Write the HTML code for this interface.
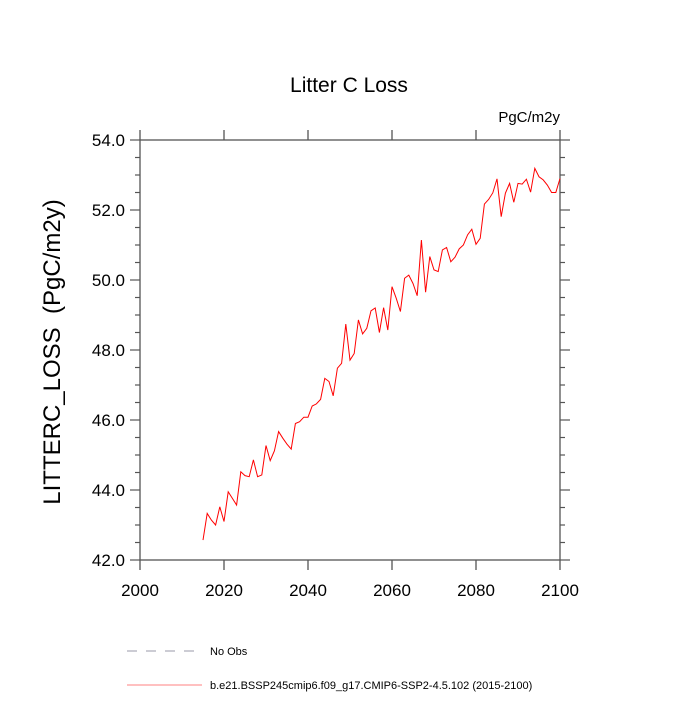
<!DOCTYPE html>
<html><head><meta charset="utf-8"><style>
body{margin:0;background:#fff;}
svg text{font-family:"Liberation Sans",sans-serif;fill:#000;}
</style></head><body>
<svg id="chart" width="700" height="700">
<text x="349" y="92" font-size="21" text-anchor="middle">Litter C Loss</text>
<text x="560" y="122" font-size="15" text-anchor="end">PgC/m2y</text>
<text transform="translate(60,352) rotate(-90)" font-size="24" text-anchor="middle" style="white-space:pre">LITTERC_LOSS  (PgC/m2y)</text>
<g id="axes"></g>
<g id="series"></g>
<g>
<line x1="127" y1="651" x2="200" y2="651" stroke="#9999aa" stroke-width="1" stroke-dasharray="10,9"/>
<text x="210" y="655" font-size="11">No Obs</text>
<line x1="127" y1="685" x2="202" y2="685" stroke="#ff8080" stroke-width="1"/>
<text x="210" y="689" font-size="11">b.e21.BSSP245cmip6.f09_g17.CMIP6-SSP2-4.5.102 (2015-2100)</text>
</g>
</svg>
<script>
const years=[];for(let y=2015;y<=2100;y++)years.push(y);
const values=[42.57,43.33,43.14,43.0,43.52,43.1,43.95,43.76,43.57,44.52,44.41,44.38,44.86,44.38,44.43,45.27,44.84,45.12,45.67,45.48,45.31,45.17,45.9,45.95,46.08,46.08,46.4,46.46,46.59,47.19,47.1,46.69,47.48,47.62,48.74,47.71,47.9,48.86,48.46,48.62,49.12,49.2,48.5,49.21,48.57,49.81,49.48,49.1,50.05,50.14,49.9,49.55,51.14,49.65,50.67,50.29,50.24,50.86,50.93,50.52,50.65,50.89,51.0,51.29,51.45,51.02,51.19,52.17,52.3,52.49,52.89,51.81,52.48,52.76,52.22,52.76,52.74,52.88,52.51,53.19,52.95,52.86,52.71,52.5,52.5,52.9];
const xTicks=[2000,2020,2040,2060,2080,2100];
const yTicks=[42.0,44.0,46.0,48.0,50.0,52.0,54.0];
const L=140,R=560,T=140,B=560,x0=2000,x1=2100,y0=42,y1=54;
const sx=v=>L+(v-x0)/(x1-x0)*(R-L);
const sy=v=>B-(v-y0)/(y1-y0)*(B-T);
const NS='http://www.w3.org/2000/svg';
const ax=document.getElementById('axes');
function mk(tag,attrs,parent){const e=document.createElementNS(NS,tag);for(const k in attrs)e.setAttribute(k,attrs[k]);parent.appendChild(e);return e;}
const frame=mk('rect',{x:L,y:T,width:R-L,height:B-T,fill:'none',stroke:'#555','stroke-width':1.3},ax);


xTicks.forEach(t=>{
  const x=sx(t);
  const tb=mk('line',{x1:x,y1:B,x2:x,y2:B+10,stroke:'#555','stroke-width':1.3},ax);
  
  
  const tt=mk('line',{x1:x,y1:T,x2:x,y2:T-10,stroke:'#555','stroke-width':1.3},ax);
  
  
  const lb=mk('text',{x:x,y:B+36,'font-size':17,'text-anchor':'middle'},ax);
  lb.textContent=String(t);
  
  
});
for(let v=y0;v<=y1+1e-9;v+=0.5){
  const y=sy(v);const major=Math.abs(v/2-Math.round(v/2))<1e-6;const len=major?10:5;
  const tl=mk('line',{x1:L,y1:y,x2:L-len,y2:y,stroke:'#555','stroke-width':1.2},ax);
  
  
  const tr=mk('line',{x1:R,y1:y,x2:R+len,y2:y,stroke:'#555','stroke-width':1.2},ax);
  
  
}
yTicks.forEach(v=>{
  const lb=mk('text',{x:L-15,y:sy(v)+6,'font-size':17,'text-anchor':'end'},ax);
  lb.textContent=v.toFixed(1);
  
  
});
const pts=years.map((yr,i)=>sx(yr).toFixed(2)+','+sy(values[i]).toFixed(2)).join(' ');
const line=mk('polyline',{points:pts,fill:'none',stroke:'#ff0000','stroke-width':1},document.getElementById('series'));


</script>
</body></html>
